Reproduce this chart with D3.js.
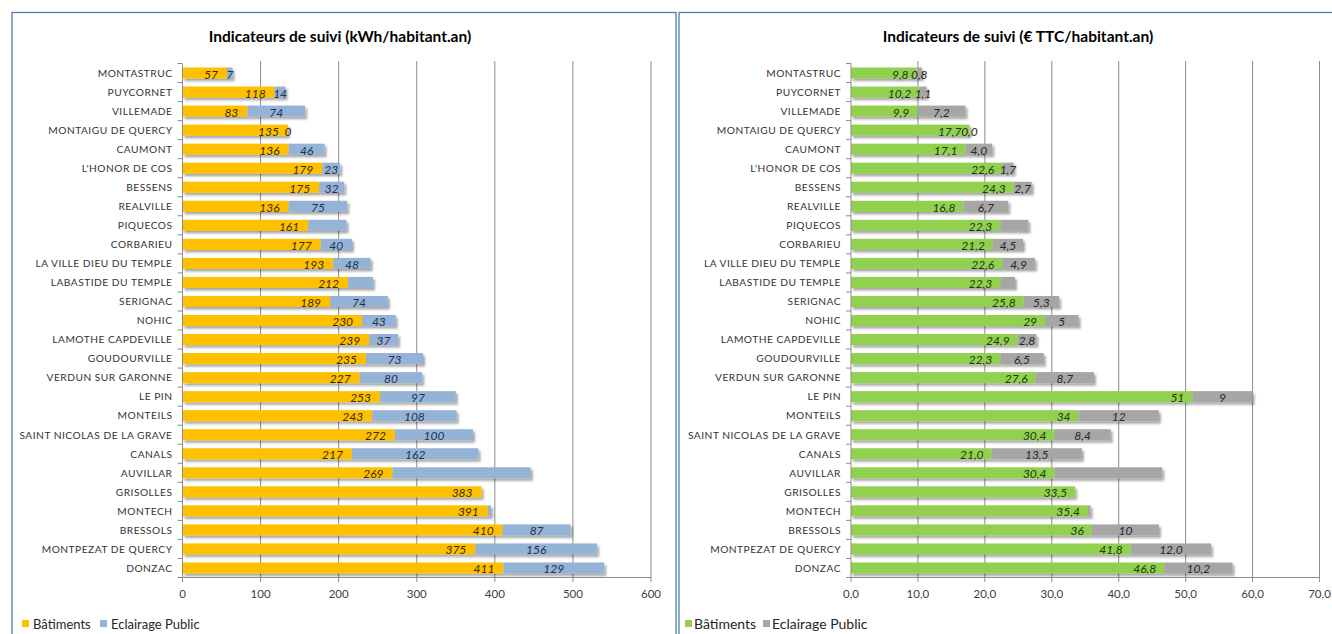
<!DOCTYPE html>
<html><head><meta charset="utf-8">
<script src="https://cdn.jsdelivr.net/npm/d3@7"></script>
<style>
html,body{margin:0;padding:0;background:#fff;}
svg{display:block;}
text{font-family:Lato,"Open Sans",sans-serif;}
</style></head>
<body>
<svg id="c" width="1332" height="634"></svg>
<script>
const categories = ["MONTASTRUC","PUYCORNET","VILLEMADE","MONTAIGU DE QUERCY","CAUMONT","L'HONOR DE COS","BESSENS","REALVILLE","PIQUECOS","CORBARIEU","LA VILLE DIEU DU TEMPLE","LABASTIDE DU TEMPLE","SERIGNAC","NOHIC","LAMOTHE CAPDEVILLE","GOUDOURVILLE","VERDUN SUR GARONNE","LE PIN","MONTEILS","SAINT NICOLAS DE LA GRAVE","CANALS","AUVILLAR","GRISOLLES","MONTECH","BRESSOLS","MONTPEZAT DE QUERCY","DONZAC"];

const kwhBatiments = [57,118,83,135,136,179,175,136,161,177,193,212,189,230,239,235,227,253,243,272,217,269,383,391,410,375,411];
const kwhEclairage = [7,14,74,0,46,23,32,75,49,40,48,32,74,43,37,73,80,97,108,100,162,177,0,4,87,156,129];
const kwhBatLabels = ["57","118","83","135","136","179","175","136","161","177","193","212","189","230","239","235","227","253","243","272","217","269","383","391","410","375","411"];
const kwhEclLabels = ["7","14","74","0","46","23","32","75",null,"40","48",null,"74","43","37","73","80","97","108","100","162",null,null,null,"87","156","129"];
const kwhTicks = [0,100,200,300,400,500,600];
const kwhTickLabels = ["0","100","200","300","400","500","600"];

const eurBatiments = [9.8,10.2,9.9,17.7,17.1,22.6,24.3,16.8,22.3,21.2,22.6,22.3,25.8,29,24.9,22.3,27.6,51,34,30.4,21.0,30.4,33.5,35.4,36,41.8,46.8];
const eurEclairage = [0.8,1.1,7.2,0.0,4.0,1.7,2.7,6.7,4.2,4.5,4.9,2.2,5.3,5,2.8,6.5,8.7,9,12,8.4,13.5,16.1,0,0.4,10,12.0,10.2];
const eurBatLabels = ["9,8","10,2","9,9","17,7","17,1","22,6","24,3","16,8","22,3","21,2","22,6","22,3","25,8","29","24,9","22,3","27,6","51","34","30,4","21,0","30,4","33,5","35,4","36","41,8","46,8"];
const eurEclLabels = ["0,8","1,1","7,2","0,0","4,0","1,7","2,7","6,7",null,"4,5","4,9",null,"5,3","5","2,8","6,5","8,7","9","12","8,4","13,5",null,null,null,"10","12,0","10,2"];
const eurTicks = [0,10,20,30,40,50,60,70];
const eurTickLabels = ["0,0","10,0","20,0","30,0","40,0","50,0","60,0","70,0"];

const seriesNames = ["Bâtiments","Eclairage Public"];

const svg = d3.select("#c");
const defs = svg.append("defs");
const f = defs.append("filter").attr("id","sh").attr("x","-10%").attr("y","-30%").attr("width","130%").attr("height","190%");
f.append("feDropShadow").attr("dx",2).attr("dy",2.5).attr("stdDeviation",1.3).attr("flood-color","#000").attr("flood-opacity",0.35);

function panel(o){
  const g = svg.append("g");
  g.append("rect").attr("x",o.px).attr("y",12.5).attr("width",o.pw).attr("height",660)
    .attr("fill","#fff").attr("stroke","#4f7fab").attr("stroke-width",1.3);
  g.append("text").attr("x",o.titleX).attr("y",42).attr("text-anchor","middle")
    .attr("font-size",15.5).attr("font-weight","bold").attr("fill","#000").text(o.title);

  const x = d3.scaleLinear().domain([o.ticks[0], o.ticks[o.ticks.length-1]]).range([o.x0,o.x1]);
  const y = d3.scaleBand().domain(categories).range([63.5,577.5]).paddingInner(0.42).paddingOuter(0.21);
  const step = y.step();

  // gridlines
  g.append("g").selectAll("line").data(o.ticks.slice(1)).join("line")
    .attr("x1",d=>x(d)).attr("x2",d=>x(d)).attr("y1",61).attr("y2",577.5)
    .attr("stroke","#8c8c8c").attr("stroke-width",1);

  // bars
  const rows = g.append("g").selectAll("g").data(categories).join("g").attr("filter","url(#sh)");
  rows.append("rect").attr("x",x(0)).attr("y",d=>y(d))
    .attr("width",(d,i)=>x(o.bat[i])-x(0)).attr("height",y.bandwidth()).attr("fill",o.c1);
  rows.append("rect").attr("x",(d,i)=>x(o.bat[i])).attr("y",d=>y(d))
    .attr("width",(d,i)=>x(o.bat[i]+o.ecl[i])-x(o.bat[i])).attr("height",y.bandwidth()).attr("fill",o.c2);

  // labels
  const lab = g.append("g").attr("font-size",12).attr("font-style","italic");
  lab.selectAll("text.b").data(categories).join("text").attr("class","b")
    .attr("x",(d,i)=>x(o.bat[i])-o.endPad).attr("y",d=>y(d)+y.bandwidth()/2+5.5)
    .attr("text-anchor","end").attr("fill",o.l1).text((d,i)=>o.batL[i]);
  lab.selectAll("text.e").data(categories.filter((d,i)=>o.eclL[i]!==null)).join("text").attr("class","e")
    .attr("x",d=>{const i=categories.indexOf(d);return (x(o.bat[i])+x(o.bat[i]+o.ecl[i]))/2;})
    .attr("y",d=>y(d)+y.bandwidth()/2+5.5)
    .attr("text-anchor","middle").attr("fill",o.l2).text(d=>o.eclL[categories.indexOf(d)]);

  // category axis
  const ya = g.append("g");
  ya.append("line").attr("x1",x(0)).attr("x2",x(0)).attr("y1",63.5).attr("y2",577.5).attr("stroke","#8c8c8c");
  ya.selectAll("line.t").data(d3.range(categories.length+1)).join("line").attr("class","t")
    .attr("x1",x(0)-5).attr("x2",x(0)).attr("y1",i=>63.5+i*step).attr("y2",i=>63.5+i*step).attr("stroke","#8c8c8c");
  ya.selectAll("text").data(categories).join("text")
    .attr("x",x(0)-10).attr("y",d=>y(d)+y.bandwidth()/2+3.8).attr("text-anchor","end")
    .attr("font-size",10.2).attr("letter-spacing",0.5).attr("fill","#333").text(d=>d);

  // value axis
  const xa = g.append("g");
  xa.append("line").attr("x1",x(0)).attr("x2",o.x1).attr("y1",577.5).attr("y2",577.5).attr("stroke","#8c8c8c");
  xa.selectAll("line.t").data(o.ticks).join("line").attr("class","t")
    .attr("x1",d=>x(d)).attr("x2",d=>x(d)).attr("y1",577.5).attr("y2",582).attr("stroke","#8c8c8c");
  xa.selectAll("text").data(o.ticks).join("text")
    .attr("x",d=>x(d)).attr("y",598).attr("text-anchor","middle").attr("font-size",11.5)
    .attr("fill","#404040").text((d,i)=>o.tickL[i]);

  // legend
  const lg = g.append("g").attr("font-size",o.lfs).attr("fill","#262626");
  lg.append("rect").attr("x",o.lx).attr("y",620).attr("width",7).attr("height",7).attr("fill",o.c1);
  lg.append("text").attr("x",o.lx+o.lgap).attr("y",628.5).text(seriesNames[0]);
  lg.append("rect").attr("x",o.lx2).attr("y",620).attr("width",7).attr("height",7).attr("fill",o.c2);
  lg.append("text").attr("x",o.lx2+o.lgap).attr("y",628.5).text(seriesNames[1]);
}

panel({px:12,pw:664,titleX:340,title:"Indicateurs de suivi (kWh/habitant.an)",
  ticks:kwhTicks,tickL:kwhTickLabels,x0:182.5,x1:651,
  bat:kwhBatiments,ecl:kwhEclairage,batL:kwhBatLabels,eclL:kwhEclLabels,
  c1:"#ffc000",c2:"#95b3d7",l1:"#3b2c00",l2:"#1f3050",endPad:9,lx:22,lx2:100,lgap:11,lfs:13});

panel({px:679,pw:700,titleX:1018,title:"Indicateurs de suivi (€ TTC/habitant.an)",
  ticks:eurTicks,tickL:eurTickLabels,x0:851,x1:1319.5,
  bat:eurBatiments,ecl:eurEclairage,batL:eurBatLabels,eclL:eurEclLabels,
  c1:"#92d050",c2:"#a6a6a6",l1:"#1d3a12",l2:"#262626",endPad:8,lx:685,lx2:763,lgap:9,lfs:14});
</script>
</body></html>
